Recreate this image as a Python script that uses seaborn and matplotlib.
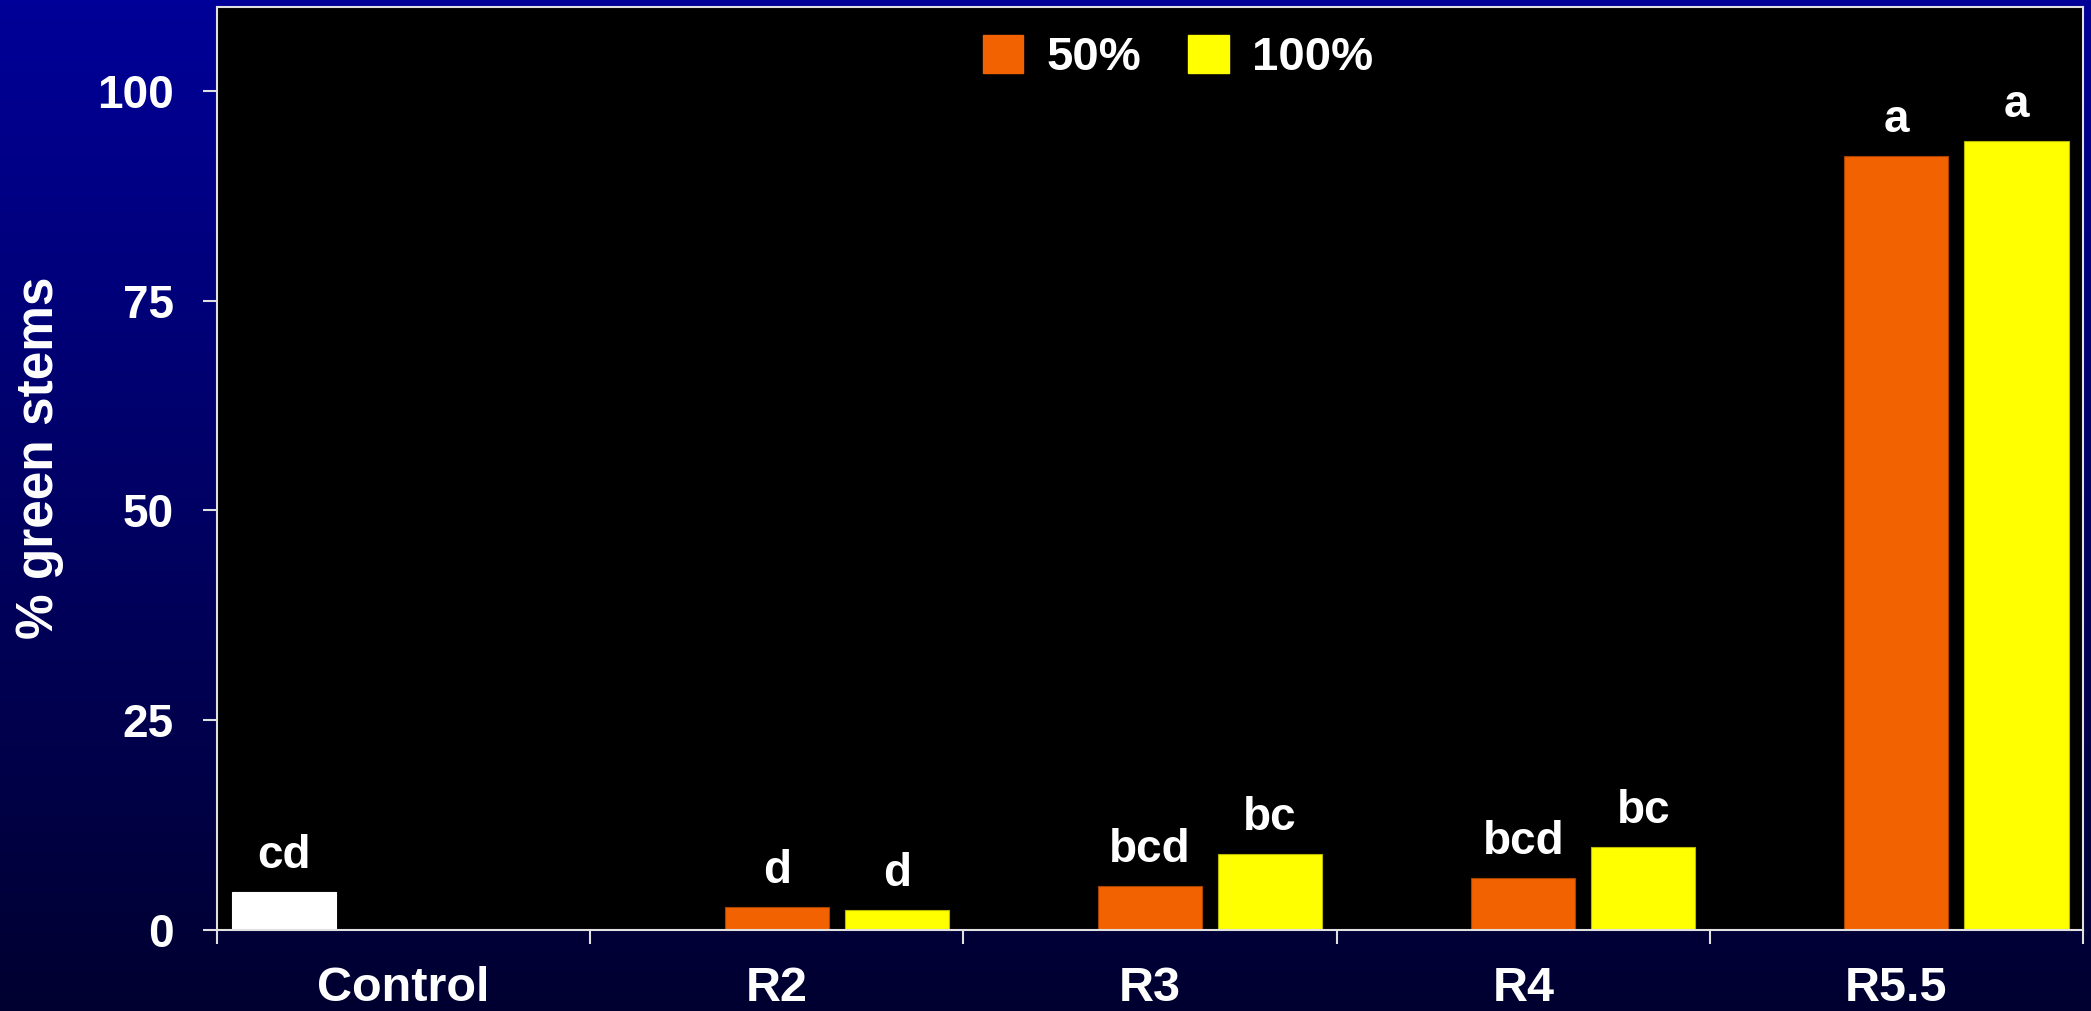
import numpy as np
import pandas as pd
import matplotlib
matplotlib.use("Agg")
import matplotlib.pyplot as plt
import seaborn as sns
from matplotlib.patches import Patch
from matplotlib.colors import LinearSegmentedColormap

# data
treatments = ["Control", "R2", "R3", "R4", "R5.5"]
rates = ["Control", "50%", "100%"]
control_value = [4.5]
values_50 = [2.8, 5.3, 6.2, 92.3]
values_100 = [2.4, 9.1, 9.9, 94.0]
letters_control = ["cd"]
letters_50 = ["d", "bcd", "bcd", "a"]
letters_100 = ["d", "bc", "bc", "a"]
y_ticks = [0, 25, 50, 75, 100]

rows = [("Control", "Control", control_value[0])]
for t, v in zip(treatments[1:], values_50):
    rows.append((t, "50%", v))
for t, v in zip(treatments[1:], values_100):
    rows.append((t, "100%", v))
df = pd.DataFrame(rows, columns=["treatment", "rate", "green"])

colors = {"Control": "#FFFFFF", "50%": "#F26200", "100%": "#FFFF00"}
edges = {"Control": "#FFFFFF", "50%": "#A84400", "100%": "#B8B800"}

sns.set_style("dark")
plt.rcParams["font.family"] = ["Liberation Sans", "DejaVu Sans"]
plt.rcParams["font.weight"] = "bold"

fig = plt.figure(figsize=(20.91, 10.11), dpi=100)

# gradient blue background
bg = fig.add_axes([0, 0, 1, 1], zorder=-10)
cmap = LinearSegmentedColormap.from_list("bg", ["#000030", "#000098"])
bg.imshow(np.linspace(0, 1, 256).reshape(-1, 1), aspect="auto", cmap=cmap,
          origin="lower", extent=[0, 1, 0, 1])
bg.set_axis_off()

ax = fig.add_axes([0.1038, 0.0801, 0.8924, 0.9130])
ax.set_facecolor("black")

sns.barplot(data=df, x="treatment", y="green", hue="rate", order=treatments,
            hue_order=rates, palette=colors, width=0.965, gap=0.133,
            saturation=1, legend=False, ax=ax, errorbar=None)

for bar_set, name in zip(ax.containers, rates):
    for b in bar_set:
        b.set_edgecolor(edges[name])
        b.set_linewidth(0.8)

for bar_set, labs in zip(ax.containers, [letters_control, letters_50, letters_100]):
    ax.bar_label(bar_set, labels=labs, padding=10, color="white",
                 fontsize=33, fontweight="bold")

ax.set_ylim(0, 110)
ax.set_xlim(-0.5, len(treatments) - 0.5)
ax.set_yticks(y_ticks)
ax.set_xticks(range(len(treatments)))
ax.set_xticklabels(treatments)
ax.set_xticks(np.arange(-0.5, len(treatments)), minor=True)
ax.grid(False)

ax.tick_params(axis="y", colors="#E0E0E0", labelcolor="white", labelsize=33,
               length=10, width=1.5, pad=21, left=True, direction="out")
ax.tick_params(axis="x", which="major", length=0, labelcolor="white",
               labelsize=35, pad=26)
ax.tick_params(axis="x", which="minor", colors="#E0E0E0", length=10,
               width=1.5, bottom=True, direction="out")
for lab in ax.get_xticklabels() + ax.get_yticklabels():
    lab.set_fontweight("bold")

for sp in ax.spines.values():
    sp.set_visible(True)
    sp.set_color("#E0E0E0")
    sp.set_linewidth(1.5)

ax.set_xlabel("")
ax.set_ylabel("% green stems", color="white", fontsize=37, fontweight="bold",
              va="center")
ax.yaxis.set_label_coords(-0.095, 0.512)

handles = [Patch(facecolor=colors["50%"], edgecolor=colors["50%"]),
           Patch(facecolor=colors["100%"], edgecolor=colors["100%"])]
leg = ax.legend(handles, ["50%", "100%"], loc="upper center",
                bbox_to_anchor=(0.515, 1.0), ncol=2, frameon=False,
                fontsize=34, handlelength=0.85, handleheight=0.85,
                handletextpad=0.5, columnspacing=1.0, borderaxespad=0.2)
for t in leg.get_texts():
    t.set_color("white")
    t.set_fontweight("bold")

fig.savefig("out.png", dpi=100, facecolor=fig.get_facecolor())
